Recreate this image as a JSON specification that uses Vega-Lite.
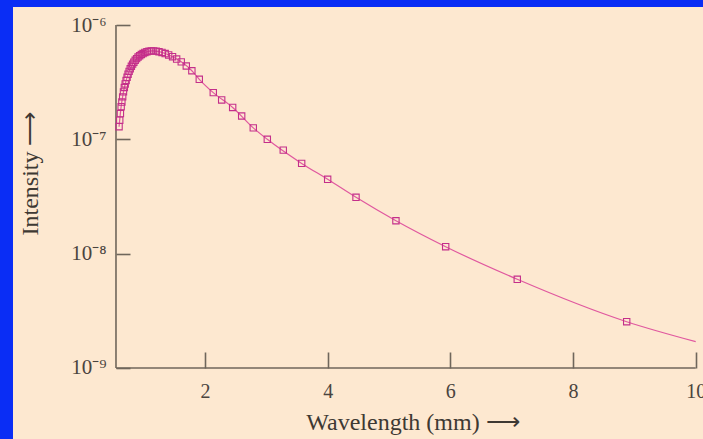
{
  "$schema": "https://vega.github.io/schema/vega-lite/v6.json",
  "width": 690,
  "height": 432,
  "autosize": {"type": "none"},
  "padding": {"left": 13, "top": 7, "right": 0, "bottom": 0},
  "background": "#0a2df5",
  "config": {"view": {"fill": "#fde8d0", "stroke": null}},
  "datasets": {
    "frame": [
      {"wavelength": 0.549, "intensity": 1e-9, "wavelength2": 10, "intensity2": 1e-9},
      {"wavelength": 0.549, "intensity": 1e-9, "wavelength2": 0.549, "intensity2": 1e-6}
    ],
    "obs": [
      {"wavelength": 0.599, "intensity": 1.29e-7},
      {"wavelength": 0.610, "intensity": 1.47e-7},
      {"wavelength": 0.621, "intensity": 1.68e-7},
      {"wavelength": 0.633, "intensity": 1.93e-7},
      {"wavelength": 0.645, "intensity": 2.12e-7},
      {"wavelength": 0.658, "intensity": 2.35e-7},
      {"wavelength": 0.671, "intensity": 2.60e-7},
      {"wavelength": 0.685, "intensity": 2.84e-7},
      {"wavelength": 0.699, "intensity": 3.05e-7},
      {"wavelength": 0.714, "intensity": 3.27e-7},
      {"wavelength": 0.730, "intensity": 3.49e-7},
      {"wavelength": 0.746, "intensity": 3.71e-7},
      {"wavelength": 0.763, "intensity": 3.93e-7},
      {"wavelength": 0.781, "intensity": 4.14e-7},
      {"wavelength": 0.800, "intensity": 4.35e-7},
      {"wavelength": 0.820, "intensity": 4.55e-7},
      {"wavelength": 0.840, "intensity": 4.73e-7},
      {"wavelength": 0.862, "intensity": 4.91e-7},
      {"wavelength": 0.885, "intensity": 5.08e-7},
      {"wavelength": 0.909, "intensity": 5.25e-7},
      {"wavelength": 0.935, "intensity": 5.39e-7},
      {"wavelength": 0.962, "intensity": 5.52e-7},
      {"wavelength": 0.990, "intensity": 5.63e-7},
      {"wavelength": 1.020, "intensity": 5.75e-7},
      {"wavelength": 1.053, "intensity": 5.84e-7},
      {"wavelength": 1.087, "intensity": 5.91e-7},
      {"wavelength": 1.124, "intensity": 5.94e-7},
      {"wavelength": 1.163, "intensity": 5.94e-7},
      {"wavelength": 1.205, "intensity": 5.91e-7},
      {"wavelength": 1.250, "intensity": 5.84e-7},
      {"wavelength": 1.299, "intensity": 5.75e-7},
      {"wavelength": 1.351, "intensity": 5.63e-7},
      {"wavelength": 1.408, "intensity": 5.47e-7},
      {"wavelength": 1.471, "intensity": 5.28e-7},
      {"wavelength": 1.538, "intensity": 5.04e-7},
      {"wavelength": 1.613, "intensity": 4.76e-7},
      {"wavelength": 1.695, "intensity": 4.38e-7},
      {"wavelength": 1.786, "intensity": 3.98e-7},
      {"wavelength": 1.907, "intensity": 3.35e-7},
      {"wavelength": 2.135, "intensity": 2.56e-7},
      {"wavelength": 2.272, "intensity": 2.21e-7},
      {"wavelength": 2.451, "intensity": 1.90e-7},
      {"wavelength": 2.598, "intensity": 1.60e-7},
      {"wavelength": 2.787, "intensity": 1.26e-7},
      {"wavelength": 3.016, "intensity": 1.00e-7},
      {"wavelength": 3.276, "intensity": 8.05e-8},
      {"wavelength": 3.576, "intensity": 6.16e-8},
      {"wavelength": 4.000, "intensity": 4.47e-8},
      {"wavelength": 4.462, "intensity": 3.11e-8},
      {"wavelength": 5.113, "intensity": 1.94e-8},
      {"wavelength": 5.924, "intensity": 1.15e-8},
      {"wavelength": 7.091, "intensity": 5.97e-9},
      {"wavelength": 8.875, "intensity": 2.54e-9}
    ],
    "fit": [
      {"wavelength": 0.599, "intensity": 1.29e-7},
      {"wavelength": 0.633, "intensity": 1.93e-7},
      {"wavelength": 0.671, "intensity": 2.60e-7},
      {"wavelength": 0.714, "intensity": 3.27e-7},
      {"wavelength": 0.763, "intensity": 3.93e-7},
      {"wavelength": 0.820, "intensity": 4.55e-7},
      {"wavelength": 0.885, "intensity": 5.08e-7},
      {"wavelength": 0.962, "intensity": 5.52e-7},
      {"wavelength": 1.053, "intensity": 5.84e-7},
      {"wavelength": 1.143, "intensity": 5.95e-7},
      {"wavelength": 1.250, "intensity": 5.84e-7},
      {"wavelength": 1.351, "intensity": 5.63e-7},
      {"wavelength": 1.471, "intensity": 5.28e-7},
      {"wavelength": 1.613, "intensity": 4.76e-7},
      {"wavelength": 1.786, "intensity": 3.98e-7},
      {"wavelength": 1.907, "intensity": 3.35e-7},
      {"wavelength": 2.135, "intensity": 2.56e-7},
      {"wavelength": 2.451, "intensity": 1.90e-7},
      {"wavelength": 2.787, "intensity": 1.26e-7},
      {"wavelength": 3.016, "intensity": 1.00e-7},
      {"wavelength": 3.576, "intensity": 6.16e-8},
      {"wavelength": 4.000, "intensity": 4.47e-8},
      {"wavelength": 4.462, "intensity": 3.11e-8},
      {"wavelength": 5.113, "intensity": 1.94e-8},
      {"wavelength": 5.924, "intensity": 1.15e-8},
      {"wavelength": 7.091, "intensity": 5.97e-9},
      {"wavelength": 8.875, "intensity": 2.54e-9},
      {"wavelength": 10.0, "intensity": 1.70e-9}
    ]
  },
  "encoding": {
    "x": {
      "field": "wavelength",
      "type": "quantitative",
      "scale": {"domain": [-1.130, 10.119], "nice": false, "zero": false},
      "axis": {
        "values": [2, 4, 6, 8, 10],
        "title": "Wavelength (mm) ⟶",
        "domain": false,
        "grid": false,
        "offset": -71,
        "tickSize": -16,
        "tickColor": "#6f665b",
        "tickWidth": 1.6,
        "labelFont": "Liberation Serif",
        "labelFontSize": 20,
        "labelColor": "#4a443e",
        "labelPadding": 29,
        "labelFlush": false,
        "labelOverlap": false,
        "titleFont": "Liberation Serif",
        "titleFontSize": 24,
        "titleFontWeight": "normal",
        "titleColor": "#3e3933",
        "titleX": 399.5,
        "titleY": 61,
        "titleBaseline": "alphabetic",
        "titleAlign": "center"
      }
    },
    "y": {
      "field": "intensity",
      "type": "quantitative",
      "scale": {"type": "log", "domain": [2.3922e-10, 1.4371e-6], "nice": false},
      "axis": {
        "values": [1e-9, 1e-8, 1e-7, 1e-6],
        "labelExpr": "datum.value >= 9e-7 ? '10⁻⁶' : datum.value >= 9e-8 ? '10⁻⁷' : datum.value >= 9e-9 ? '10⁻⁸' : '10⁻⁹'",
        "title": "Intensity ⟶",
        "domain": false,
        "grid": false,
        "offset": -103,
        "tickSize": -14,
        "tickColor": "#6f665b",
        "tickWidth": 1.6,
        "labelFont": "Liberation Serif",
        "labelFontSize": 21,
        "labelColor": "#4a443e",
        "labelPadding": 24,
        "labelFlush": false,
        "labelOverlap": false,
        "titleFont": "Liberation Serif",
        "titleFontSize": 24,
        "titleFontWeight": "normal",
        "titleColor": "#3e3933",
        "titleX": -74,
        "titleY": 166,
        "titleAngle": -90,
        "titleAlign": "center",
        "titleBaseline": "bottom"
      }
    }
  },
  "layer": [
    {
      "data": {"name": "frame"},
      "mark": {"type": "rule", "color": "#6f665b", "strokeWidth": 1.6},
      "encoding": {
        "x2": {"field": "wavelength2"},
        "y2": {"field": "intensity2"}
      }
    },
    {
      "data": {"name": "fit"},
      "mark": {"type": "line", "color": "#e0589f", "strokeWidth": 1.2, "interpolate": "monotone"}
    },
    {
      "data": {"name": "obs"},
      "mark": {"type": "point", "shape": "square", "filled": false, "color": "#c42f8a", "strokeWidth": 1.1, "size": 40, "opacity": 1}
    }
  ]
}
